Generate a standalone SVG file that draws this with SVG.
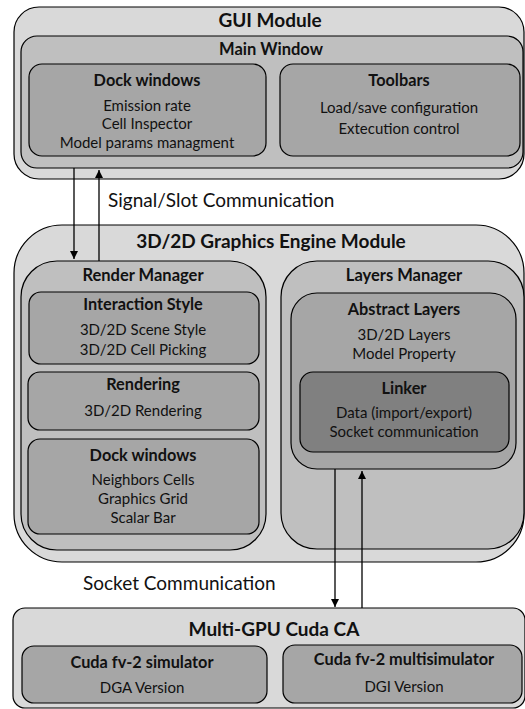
<svg xmlns="http://www.w3.org/2000/svg" width="525" height="709" viewBox="0 0 525 709">
<defs>
<style>
.l1,.l2,.l3,.l4{stroke:#000;stroke-width:1.2}
.l1{fill:#d9d9d9}
.l2{fill:#bfbfbf}
.l3{fill:#a6a6a6}
.l4{fill:#808080}
text{font-family:Lato,"Open Sans","Liberation Sans",sans-serif;fill:#111;text-anchor:middle}
.h1{font-size:19px;font-weight:bold}
.h2{font-size:16.5px;font-weight:bold}
.h3{font-size:16.3px;font-weight:bold}
.t{font-size:15px}
.lab{font-size:19px;text-anchor:start}
.c{stroke:#000;stroke-width:1.3;fill:none}
</style>
<marker id="ah" viewBox="0 0 10 10" refX="10" refY="5" markerWidth="8" markerHeight="8" markerUnits="userSpaceOnUse" orient="auto"><path d="M0,0 L10,5 L0,10 z" fill="#000"/></marker>
</defs>
<rect width="525" height="709" fill="#fff"/>

<g id="gui-module">
<rect class="l1" x="14" y="7" width="510" height="172" rx="25"/>
<text class="h1" x="270" y="27">GUI Module</text>
</g>
<g id="main-window">
<rect class="l2" x="21" y="36" width="502" height="132" rx="16"/>
<text class="h2" x="271" y="55">Main Window</text>
</g>
<g id="gui-dock-windows">
<rect class="l3" x="29" y="64" width="237" height="92" rx="13"/>
<text class="h3" x="147" y="86">Dock windows</text>
<text class="t" x="147" y="111">Emission rate</text>
<text class="t" x="147" y="129">Cell Inspector</text>
<text class="t" x="147" y="148">Model params managment</text>
</g>
<g id="toolbars">
<rect class="l3" x="280" y="64" width="240" height="92" rx="13"/>
<text class="h3" x="399" y="86">Toolbars</text>
<text class="t" x="399" y="113">Load/save configuration</text>
<text class="t" x="399" y="134">Extecution control</text>
</g>

<g id="engine-module">
<rect class="l1" x="14" y="225" width="510" height="337" rx="48"/>
<text class="h1" x="271" y="248">3D/2D Graphics Engine Module</text>
</g>
<g id="render-manager">
<rect class="l2" x="21" y="261" width="245" height="289" rx="36"/>
<text class="h2" x="143" y="281">Render Manager</text>
</g>
<g id="interaction-style">
<rect class="l3" x="29" y="292" width="230" height="72" rx="12"/>
<text class="h3" x="143" y="310">Interaction Style</text>
<text class="t" x="143" y="335">3D/2D Scene Style</text>
<text class="t" x="143" y="355">3D/2D Cell Picking</text>
</g>
<g id="rendering">
<rect class="l3" x="28" y="372" width="231" height="58" rx="12"/>
<text class="h3" x="143" y="390">Rendering</text>
<text class="t" x="143" y="416">3D/2D Rendering</text>
</g>
<g id="render-dock-windows">
<rect class="l3" x="28" y="439" width="231" height="95" rx="12"/>
<text class="h3" x="143" y="461">Dock windows</text>
<text class="t" x="143" y="485">Neighbors Cells</text>
<text class="t" x="143" y="504">Graphics Grid</text>
<text class="t" x="143" y="523">Scalar Bar</text>
</g>
<g id="layers-manager">
<rect class="l2" x="281" y="261" width="243" height="288" rx="36"/>
<text class="h2" x="404" y="281">Layers Manager</text>
</g>
<g id="abstract-layers">
<rect class="l3" x="291" y="293" width="225" height="176" rx="26"/>
<text class="h3" x="404" y="315">Abstract Layers</text>
<text class="t" x="404" y="340">3D/2D Layers</text>
<text class="t" x="404" y="359">Model Property</text>
</g>
<g id="linker">
<rect class="l4" x="300" y="372" width="209" height="80" rx="13"/>
<text class="h3" x="404" y="394">Linker</text>
<text class="t" x="404" y="418">Data (import/export)</text>
<text class="t" x="404" y="437">Socket communication</text>
</g>

<g id="multi-gpu">
<rect class="l1" x="13" y="608" width="512" height="100" rx="12"/>
<text class="h1" x="274" y="636">Multi-GPU Cuda CA</text>
</g>
<g id="cuda-simulator">
<rect class="l3" x="22" y="646" width="245" height="57" rx="12"/>
<text class="h3" x="142" y="668">Cuda fv-2 simulator</text>
<text class="t" x="142" y="693">DGA Version</text>
</g>
<g id="cuda-multisimulator">
<rect class="l3" x="283" y="645" width="239" height="58" rx="12"/>
<text class="h3" x="404" y="665">Cuda fv-2 multisimulator</text>
<text class="t" x="404" y="692">DGI Version</text>
</g>

<g id="connectors">
<line class="c" x1="74" y1="168" x2="74" y2="259" marker-end="url(#ah)"/>
<line class="c" x1="99" y1="261" x2="99" y2="170" marker-end="url(#ah)"/>
<line class="c" x1="335" y1="469" x2="335" y2="607" marker-end="url(#ah)"/>
<line class="c" x1="362" y1="608" x2="362" y2="471" marker-end="url(#ah)"/>
<text class="lab" x="108" y="207">Signal/Slot Communication</text>
<text class="lab" x="83" y="590">Socket Communication</text>
</g>
</svg>
